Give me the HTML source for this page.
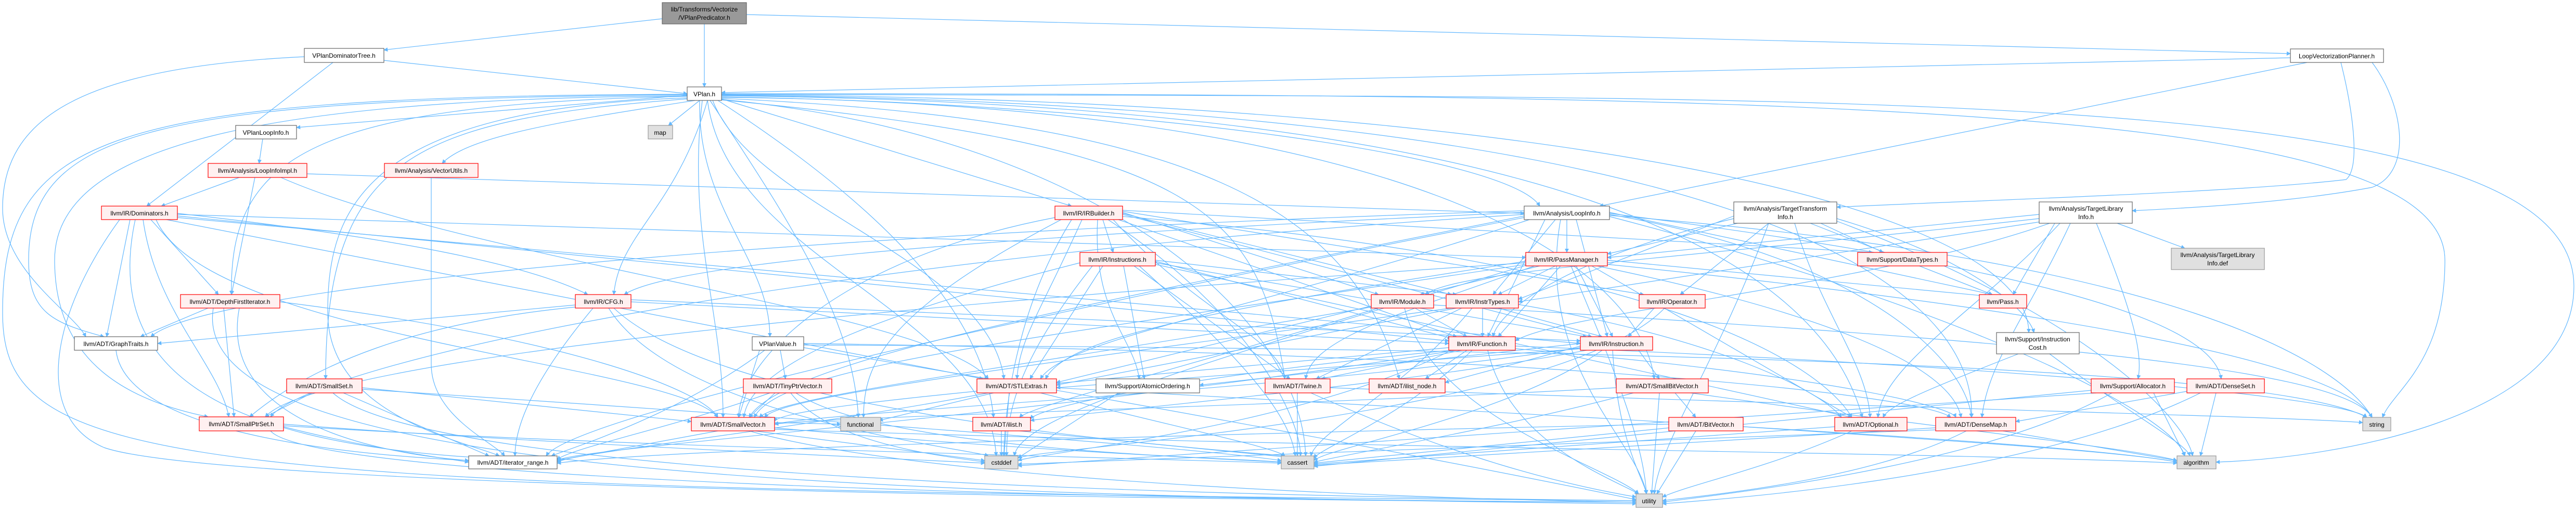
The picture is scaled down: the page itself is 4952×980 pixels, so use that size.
<!DOCTYPE html>
<html><head><meta charset="utf-8"><style>
html,body{margin:0;padding:0;background:#fff;}
svg{display:block;}
text{font-family:"Liberation Sans",Arial,sans-serif;font-size:12px;fill:#000;}
.e{fill:none;stroke:#63b8ff;stroke-width:1.2;marker-end:url(#a);}
.r{fill:#fff0f0;stroke:#ff0000;stroke-width:1.2;}
.w{fill:#fff;stroke:#666;stroke-width:1.2;}
.g{fill:#e0e0e0;stroke:#999;stroke-width:1.2;}
.t{fill:#999;stroke:#666;stroke-width:1.2;}
</style></head><body>
<svg width="4952" height="980" viewBox="0 0 4952 980" xmlns="http://www.w3.org/2000/svg">
<defs><marker id="a" viewBox="0 0 10 10" refX="9" refY="5" markerWidth="8" markerHeight="8" markerUnits="userSpaceOnUse" orient="auto"><path d="M0 0L10 5L0 10z" fill="#63b8ff"/></marker></defs>
<g>
<path class="e" d="M1273 36 L738 96"/>
<path class="e" d="M1354 46 L1354 167"/>
<path class="e" d="M1435 28 L4403 103"/>
<path class="e" d="M738 116 L1321 180"/>
<path class="e" d="M640 120 L282 396"/>
<path class="e" d="M585 109 C150 130,5 230,5 400 C5 520,140 600,165 647"/>
<path class="e" d="M4403 111 L1387 178"/>
<path class="e" d="M4435 120 L3075 396"/>
<path class="e" d="M4560 120 C4620 200,4640 330,4560 360 C4400 390,4200 400,4099 405"/>
<path class="e" d="M4500 120 C4520 200,4540 320,4510 345 C4300 370,3800 385,3531 398"/>
<path class="e" d="M1321 183 L570 245"/>
<path class="e" d="M1345 193 L1285 241"/>
<path class="e" d="M1336 193 C1100 230,900 260,850 314"/>
<path class="e" d="M1321 185 C600 200,440 300,445 566"/>
<path class="e" d="M1321 182 C300 190,55 250,55 500 C55 600,100 620,200 647"/>
<path class="e" d="M1321 184 C500 190,105 280,105 500 C105 700,250 770,400 801"/>
<path class="e" d="M1321 188 C700 210,630 400,630 600 C630 800,900 850,960 876"/>
<path class="e" d="M1321 190 C800 230,626 300,626 728"/>
<path class="e" d="M1321 181 C200 185,5 260,5 600 C5 900,300 940,3145 962"/>
<path class="e" d="M1387 190 L2060 396"/>
<path class="e" d="M1345 193 C1340 400,1480 500,1480 647"/>
<path class="e" d="M1350 193 C1320 450,1390 600,1390 802"/>
<path class="e" d="M1370 193 C1450 400,1900 500,1930 728"/>
<path class="e" d="M1387 192 C2300 280,2420 400,2470 728"/>
<path class="e" d="M1387 191 C2100 260,2500 600,2510 876"/>
<path class="e" d="M1360 193 C1400 500,1900 600,1915 876"/>
<path class="e" d="M1365 193 C1500 400,1640 600,1650 802"/>
<path class="e" d="M1387 189 C2300 230,2600 400,2690 728"/>
<path class="e" d="M1380 193 C1700 400,1890 600,1910 802"/>
<path class="e" d="M1387 186 C2200 200,2900 300,2960 396"/>
<path class="e" d="M1387 184 C3000 200,3500 500,3580 802"/>
<path class="e" d="M1387 183 C3200 200,3800 500,3790 802"/>
<path class="e" d="M1387 187 C2700 200,3150 500,3180 728"/>
<path class="e" d="M1387 182 C3000 190,3900 400,3900 639"/>
<path class="e" d="M1387 181 C3500 190,4948 150,4948 550 C4948 800,4500 880,4260 888"/>
<path class="e" d="M1387 180 C3500 180,4700 200,4700 500 C4700 700,4600 750,4580 802"/>
<path class="e" d="M1360 193 C1300 400,1190 450,1180 566"/>
<path class="e" d="M505 267 L498 314"/>
<path class="e" d="M460 341 L310 396"/>
<path class="e" d="M490 341 L445 566"/>
<path class="e" d="M590 334 L2930 410"/>
<path class="e" d="M540 341 C900 500,1800 600,1900 728"/>
<path class="e" d="M829 341 L829 700 C829 800,950 850,970 876"/>
<path class="e" d="M250 422 L205 647"/>
<path class="e" d="M290 422 L420 566"/>
<path class="e" d="M341 410 C700 450,1000 500,1130 566"/>
<path class="e" d="M341 412 L2933 495"/>
<path class="e" d="M341 415 L2785 655"/>
<path class="e" d="M275 422 C300 600,420 700,440 801"/>
<path class="e" d="M300 422 C400 650,1300 700,1380 802"/>
<path class="e" d="M320 422 L1890 728"/>
<path class="e" d="M260 422 C200 700,400 850,930 880"/>
<path class="e" d="M230 422 C100 600,60 800,200 860 C400 930,2000 960,3145 965"/>
<path class="e" d="M341 418 L3038 660"/>
<path class="e" d="M2120 422 L2140 485"/>
<path class="e" d="M2158 410 L2790 566"/>
<path class="e" d="M2158 408 L2650 566"/>
<path class="e" d="M2150 422 L2800 647"/>
<path class="e" d="M2158 406 L3160 566"/>
<path class="e" d="M2158 412 L3060 647"/>
<path class="e" d="M2080 422 C2000 600,1960 650,1955 728"/>
<path class="e" d="M2110 422 C2100 600,2180 650,2190 728"/>
<path class="e" d="M2140 422 C2300 600,2460 650,2470 728"/>
<path class="e" d="M2028 418 C1600 500,1420 700,1420 802"/>
<path class="e" d="M2040 422 C1700 600,1660 700,1660 802"/>
<path class="e" d="M2060 422 C1950 600,1930 800,1930 876"/>
<path class="e" d="M2130 422 C2400 600,2500 800,2500 876"/>
<path class="e" d="M2158 416 C3200 500,3500 700,3560 802"/>
<path class="e" d="M2158 404 L3600 485"/>
<path class="e" d="M2120 511 L1980 728"/>
<path class="e" d="M2221 500 L2800 566"/>
<path class="e" d="M2221 505 L3050 647"/>
<path class="e" d="M2160 511 L2200 728"/>
<path class="e" d="M2180 511 L2480 728"/>
<path class="e" d="M2190 511 C2400 700,2480 800,2490 876"/>
<path class="e" d="M2100 511 C1950 700,1935 800,1935 876"/>
<path class="e" d="M2076 505 C1700 600,1440 700,1430 802"/>
<path class="e" d="M2221 508 L3560 802"/>
<path class="e" d="M2221 502 L2790 650"/>
<path class="e" d="M3012 422 L3012 485"/>
<path class="e" d="M2990 422 L2870 566"/>
<path class="e" d="M3030 422 L3090 647"/>
<path class="e" d="M2970 422 L2860 647"/>
<path class="e" d="M3094 412 C3600 500,3780 700,3790 802"/>
<path class="e" d="M3094 410 C3800 500,4250 600,4270 728"/>
<path class="e" d="M3094 408 L3830 566"/>
<path class="e" d="M2930 412 C1500 500,600 700,520 801"/>
<path class="e" d="M2930 415 C2000 600,1500 700,1440 802"/>
<path class="e" d="M2940 422 C2400 600,2050 650,2000 728"/>
<path class="e" d="M2930 405 C1500 450,400 550,290 647"/>
<path class="e" d="M2930 408 C2000 450,1300 500,1200 566"/>
<path class="e" d="M3094 416 C3800 600,4180 800,4200 876"/>
<path class="e" d="M3094 414 C4200 500,4500 700,4560 802"/>
<path class="e" d="M3000 422 C2950 700,3150 850,3165 949"/>
<path class="e" d="M2930 418 C2000 600,1100 800,1050 876"/>
<path class="e" d="M3340 429 L3090 488"/>
<path class="e" d="M3500 429 L3620 485"/>
<path class="e" d="M3400 429 L3230 566"/>
<path class="e" d="M3531 420 C3800 500,3900 600,3910 639"/>
<path class="e" d="M3480 429 L3830 566"/>
<path class="e" d="M3333 420 C3000 500,2880 600,2870 647"/>
<path class="e" d="M3531 425 C4000 600,4200 800,4215 876"/>
<path class="e" d="M3400 429 C3300 700,3190 850,3180 949"/>
<path class="e" d="M3450 429 C3500 600,3590 700,3595 802"/>
<path class="e" d="M3333 415 L2919 575"/>
<path class="e" d="M4070 429 L4200 477"/>
<path class="e" d="M3920 412 L3090 495"/>
<path class="e" d="M3950 429 L3870 566"/>
<path class="e" d="M3940 429 C3600 550,3000 600,2913 655"/>
<path class="e" d="M3920 420 C3200 500,2800 520,2740 566"/>
<path class="e" d="M3980 429 C3900 600,3820 700,3810 802"/>
<path class="e" d="M3960 429 C3800 600,3620 700,3610 802"/>
<path class="e" d="M3930 425 L2919 580"/>
<path class="e" d="M4030 429 C4100 600,4120 680,4110 728"/>
<path class="e" d="M2960 511 L2730 566"/>
<path class="e" d="M3000 511 L2880 647"/>
<path class="e" d="M3070 511 C3500 600,3750 700,3770 802"/>
<path class="e" d="M2933 505 C1500 600,600 700,510 801"/>
<path class="e" d="M2933 508 C2000 650,1500 700,1450 802"/>
<path class="e" d="M2933 502 C2300 600,2050 650,2010 728"/>
<path class="e" d="M2950 511 C2700 600,2520 650,2510 728"/>
<path class="e" d="M2933 510 C2300 700,1960 800,1950 876"/>
<path class="e" d="M3090 508 C4000 600,4500 700,4560 802"/>
<path class="e" d="M3020 511 C3100 700,3160 850,3165 949"/>
<path class="e" d="M3060 511 L3560 802"/>
<path class="e" d="M2990 511 L2880 566"/>
<path class="e" d="M3030 511 L3100 647"/>
<path class="e" d="M3090 500 L3830 570"/>
<path class="e" d="M1106 586 L303 660"/>
<path class="e" d="M1213 580 L2785 660"/>
<path class="e" d="M1213 576 L3038 655"/>
<path class="e" d="M1140 592 C1050 700,990 800,990 876"/>
<path class="e" d="M1180 592 C1400 800,2300 860,2470 876"/>
<path class="e" d="M1170 592 C1300 800,1850 860,1900 876"/>
<path class="e" d="M1106 590 C800 620,600 700,480 801"/>
<path class="e" d="M2720 592 L2820 647"/>
<path class="e" d="M2650 592 C2300 700,1980 780,1960 802"/>
<path class="e" d="M2756 586 C3800 650,4500 700,4560 802"/>
<path class="e" d="M2700 592 C2750 800,3100 900,3150 949"/>
<path class="e" d="M2636 590 C2000 700,1500 760,1460 802"/>
<path class="e" d="M2636 588 L2031 735"/>
<path class="e" d="M2850 592 L2850 647"/>
<path class="e" d="M2880 592 L3080 647"/>
<path class="e" d="M2790 592 C2000 700,1500 760,1470 802"/>
<path class="e" d="M2800 592 L2031 740"/>
<path class="e" d="M2810 592 L2530 728"/>
<path class="e" d="M2919 585 C3300 650,3500 750,3540 802"/>
<path class="e" d="M2830 592 C2700 750,2530 830,2520 876"/>
<path class="e" d="M3180 592 L3130 647"/>
<path class="e" d="M3200 592 C3000 800,2000 860,1957 880"/>
<path class="e" d="M2820 673 L2740 728"/>
<path class="e" d="M2790 673 C2300 720,2000 780,1981 805"/>
<path class="e" d="M2785 668 C2000 740,1500 780,1489 810"/>
<path class="e" d="M2810 673 L2540 728"/>
<path class="e" d="M2800 673 C2000 800,1100 860,1071 885"/>
<path class="e" d="M2830 673 C2700 800,2540 860,2526 880"/>
<path class="e" d="M2790 673 C2500 820,2000 870,1957 885"/>
<path class="e" d="M2913 665 C3800 700,4500 760,4550 802"/>
<path class="e" d="M2860 673 C2900 850,3100 920,3150 949"/>
<path class="e" d="M2913 670 C3500 720,3750 780,3760 802"/>
<path class="e" d="M3038 665 L2778 735"/>
<path class="e" d="M3050 673 C2700 740,2100 790,1981 808"/>
<path class="e" d="M3150 673 L3190 728"/>
<path class="e" d="M3038 668 C2500 750,1600 790,1489 815"/>
<path class="e" d="M3040 670 L2031 745"/>
<path class="e" d="M3038 660 L2306 740"/>
<path class="e" d="M3080 673 C2900 800,2550 860,2526 885"/>
<path class="e" d="M3100 673 C3110 850,3160 920,3165 949"/>
<path class="e" d="M3880 680 C3700 750,3630 780,3620 802"/>
<path class="e" d="M3940 680 C4100 800,4200 850,4210 876"/>
<path class="e" d="M3220 755 L3260 802"/>
<path class="e" d="M3190 755 L3175 949"/>
<path class="e" d="M3250 755 C3700 820,4100 860,4185 885"/>
<path class="e" d="M3140 755 C2900 820,2600 870,2526 888"/>
<path class="e" d="M3107 745 C2500 780,1600 800,1489 815"/>
<path class="e" d="M1490 755 L1440 802"/>
<path class="e" d="M1480 755 C1300 820,1100 860,1071 883"/>
<path class="e" d="M1530 755 C1700 870,2400 880,2463 888"/>
<path class="e" d="M1520 755 C1600 860,1850 880,1893 888"/>
<path class="e" d="M1500 673 L1510 728"/>
<path class="e" d="M1460 673 L1420 802"/>
<path class="e" d="M1545 668 L1900 728"/>
<path class="e" d="M1545 660 C3000 680,3700 760,3750 802"/>
<path class="e" d="M1470 673 C1300 800,1100 860,1060 876"/>
<path class="e" d="M1545 663 C3500 670,4400 720,4550 802"/>
<path class="e" d="M1910 755 L1690 808"/>
<path class="e" d="M1900 755 C1500 830,1100 870,1071 888"/>
<path class="e" d="M1940 755 L1930 876"/>
<path class="e" d="M2000 755 C2300 830,2450 860,2470 876"/>
<path class="e" d="M2031 750 C2600 850,3000 930,3145 960"/>
<path class="e" d="M2031 745 C3000 800,4000 850,4185 888"/>
<path class="e" d="M600 755 L510 801"/>
<path class="e" d="M696 745 L1329 810"/>
<path class="e" d="M660 755 L940 876"/>
<path class="e" d="M696 748 C1500 800,2300 860,2463 885"/>
<path class="e" d="M640 755 C800 900,2000 950,3145 962"/>
<path class="e" d="M545 820 C700 860,850 880,901 888"/>
<path class="e" d="M545 818 C1200 860,2200 880,2463 890"/>
<path class="e" d="M545 815 C1000 850,1700 880,1893 890"/>
<path class="e" d="M520 828 C600 920,2000 960,3145 965"/>
<path class="e" d="M400 592 L270 647"/>
<path class="e" d="M430 592 L450 801"/>
<path class="e" d="M538 580 C1100 650,1350 750,1380 802"/>
<path class="e" d="M460 592 C420 800,700 870,901 885"/>
<path class="e" d="M410 592 C360 900,1500 950,3145 968"/>
<path class="e" d="M223 673 C240 820,600 870,901 885"/>
<path class="e" d="M2494 755 L2494 876"/>
<path class="e" d="M2557 745 C3500 780,4400 800,4542 812"/>
<path class="e" d="M2520 755 C2800 880,3000 930,3145 955"/>
<path class="e" d="M1380 828 L1071 885"/>
<path class="e" d="M1450 828 L1893 885"/>
<path class="e" d="M1489 822 C1900 860,2300 880,2463 888"/>
<path class="e" d="M1489 825 C2500 860,3800 870,4185 890"/>
<path class="e" d="M1489 812 L1616 815"/>
<path class="e" d="M1440 828 C1800 930,2800 960,3145 965"/>
<path class="e" d="M1925 828 L1925 876"/>
<path class="e" d="M1960 828 L2470 878"/>
<path class="e" d="M3208 815 C2500 830,1300 860,1071 890"/>
<path class="e" d="M3260 828 L3185 949"/>
<path class="e" d="M3351 820 C3800 850,4100 870,4185 888"/>
<path class="e" d="M3210 822 L2526 890"/>
<path class="e" d="M3560 828 C3400 900,3250 930,3196 955"/>
<path class="e" d="M3527 820 L2526 892"/>
<path class="e" d="M3850 828 L4185 885"/>
<path class="e" d="M3780 828 C3600 920,3300 950,3196 962"/>
<path class="e" d="M3721 822 L2526 894"/>
<path class="e" d="M3721 826 L1957 892"/>
<path class="e" d="M4140 755 L4200 876"/>
<path class="e" d="M4060 755 C3800 900,3300 950,3196 965"/>
<path class="e" d="M4020 750 L2526 896"/>
<path class="e" d="M4030 755 L1957 895"/>
<path class="e" d="M4204 752 L3875 810"/>
<path class="e" d="M4260 755 L4230 876"/>
<path class="e" d="M4230 755 C3900 920,3300 960,3196 968"/>
<path class="e" d="M2150 755 L1957 880"/>
</g>
<g>
<rect class="t" x="1273" y="5" width="162" height="41"/><text x="1354" y="22" text-anchor="middle">lib/Transforms/Vectorize</text><text x="1354" y="38" text-anchor="middle">/VPlanPredicator.h</text>
<rect class="w" x="585" y="93" width="153" height="27"/><text x="661" y="111" text-anchor="middle">VPlanDominatorTree.h</text>
<rect class="w" x="4403" y="94" width="179" height="26"/><text x="4492" y="112" text-anchor="middle">LoopVectorizationPlanner.h</text>
<rect class="w" x="1321" y="167" width="66" height="26"/><text x="1354" y="185" text-anchor="middle">VPlan.h</text>
<rect class="w" x="453" y="241" width="117" height="26"/><text x="511" y="259" text-anchor="middle">VPlanLoopInfo.h</text>
<rect class="g" x="1246" y="241" width="47" height="26"/><text x="1269" y="259" text-anchor="middle">map</text>
<rect class="r" x="400" y="314" width="190" height="27"/><text x="495" y="332" text-anchor="middle">llvm/Analysis/LoopInfoImpl.h</text>
<rect class="r" x="739" y="314" width="180" height="27"/><text x="829" y="332" text-anchor="middle">llvm/Analysis/VectorUtils.h</text>
<rect class="r" x="195" y="396" width="146" height="26"/><text x="268" y="414" text-anchor="middle">llvm/IR/Dominators.h</text>
<rect class="r" x="2028" y="396" width="130" height="26"/><text x="2093" y="414" text-anchor="middle">llvm/IR/IRBuilder.h</text>
<rect class="w" x="2930" y="396" width="164" height="26"/><text x="3012" y="414" text-anchor="middle">llvm/Analysis/LoopInfo.h</text>
<rect class="w" x="3333" y="388" width="198" height="41"/><text x="3432" y="405" text-anchor="middle">llvm/Analysis/TargetTransform</text><text x="3432" y="421" text-anchor="middle">Info.h</text>
<rect class="w" x="3920" y="388" width="179" height="41"/><text x="4010" y="405" text-anchor="middle">llvm/Analysis/TargetLibrary</text><text x="4010" y="421" text-anchor="middle">Info.h</text>
<rect class="r" x="2076" y="485" width="145" height="26"/><text x="2148" y="503" text-anchor="middle">llvm/IR/Instructions.h</text>
<rect class="r" x="2933" y="485" width="157" height="26"/><text x="3011" y="503" text-anchor="middle">llvm/IR/PassManager.h</text>
<rect class="r" x="3571" y="485" width="172" height="26"/><text x="3657" y="503" text-anchor="middle">llvm/Support/DataTypes.h</text>
<rect class="g" x="4174" y="477" width="179" height="41"/><text x="4263" y="494" text-anchor="middle">llvm/Analysis/TargetLibrary</text><text x="4263" y="510" text-anchor="middle">Info.def</text>
<rect class="r" x="347" y="566" width="191" height="26"/><text x="442" y="584" text-anchor="middle">llvm/ADT/DepthFirstIterator.h</text>
<rect class="r" x="1106" y="566" width="107" height="26"/><text x="1160" y="584" text-anchor="middle">llvm/IR/CFG.h</text>
<rect class="r" x="2636" y="566" width="120" height="26"/><text x="2696" y="584" text-anchor="middle">llvm/IR/Module.h</text>
<rect class="r" x="2780" y="566" width="139" height="26"/><text x="2850" y="584" text-anchor="middle">llvm/IR/InstrTypes.h</text>
<rect class="r" x="3151" y="566" width="127" height="26"/><text x="3214" y="584" text-anchor="middle">llvm/IR/Operator.h</text>
<rect class="r" x="3805" y="566" width="91" height="26"/><text x="3850" y="584" text-anchor="middle">llvm/Pass.h</text>
<rect class="w" x="143" y="647" width="160" height="26"/><text x="223" y="665" text-anchor="middle">llvm/ADT/GraphTraits.h</text>
<rect class="w" x="1446" y="647" width="99" height="26"/><text x="1495" y="665" text-anchor="middle">VPlanValue.h</text>
<rect class="r" x="2785" y="647" width="128" height="26"/><text x="2849" y="665" text-anchor="middle">llvm/IR/Function.h</text>
<rect class="r" x="3038" y="647" width="139" height="26"/><text x="3107" y="665" text-anchor="middle">llvm/IR/Instruction.h</text>
<rect class="w" x="3838" y="639" width="159" height="41"/><text x="3917" y="656" text-anchor="middle">llvm/Support/Instruction</text><text x="3917" y="672" text-anchor="middle">Cost.h</text>
<rect class="r" x="551" y="728" width="145" height="27"/><text x="623" y="746" text-anchor="middle">llvm/ADT/SmallSet.h</text>
<rect class="r" x="1429" y="728" width="170" height="27"/><text x="1514" y="746" text-anchor="middle">llvm/ADT/TinyPtrVector.h</text>
<rect class="r" x="1878" y="728" width="153" height="27"/><text x="1954" y="746" text-anchor="middle">llvm/ADT/STLExtras.h</text>
<rect class="w" x="2107" y="728" width="199" height="27"/><text x="2206" y="746" text-anchor="middle">llvm/Support/AtomicOrdering.h</text>
<rect class="r" x="2432" y="728" width="125" height="27"/><text x="2494" y="746" text-anchor="middle">llvm/ADT/Twine.h</text>
<rect class="r" x="2632" y="728" width="146" height="27"/><text x="2705" y="746" text-anchor="middle">llvm/ADT/ilist_node.h</text>
<rect class="r" x="3107" y="728" width="177" height="27"/><text x="3195" y="746" text-anchor="middle">llvm/ADT/SmallBitVector.h</text>
<rect class="r" x="4020" y="728" width="160" height="27"/><text x="4100" y="746" text-anchor="middle">llvm/Support/Allocator.h</text>
<rect class="r" x="4204" y="728" width="149" height="27"/><text x="4278" y="746" text-anchor="middle">llvm/ADT/DenseSet.h</text>
<rect class="r" x="383" y="801" width="162" height="27"/><text x="464" y="819" text-anchor="middle">llvm/ADT/SmallPtrSet.h</text>
<rect class="r" x="1329" y="802" width="160" height="26"/><text x="1409" y="820" text-anchor="middle">llvm/ADT/SmallVector.h</text>
<rect class="g" x="1616" y="802" width="77" height="26"/><text x="1654" y="820" text-anchor="middle">functional</text>
<rect class="r" x="1870" y="802" width="111" height="26"/><text x="1925" y="820" text-anchor="middle">llvm/ADT/ilist.h</text>
<rect class="r" x="3208" y="802" width="143" height="26"/><text x="3279" y="820" text-anchor="middle">llvm/ADT/BitVector.h</text>
<rect class="r" x="3527" y="802" width="139" height="26"/><text x="3596" y="820" text-anchor="middle">llvm/ADT/Optional.h</text>
<rect class="r" x="3721" y="802" width="154" height="26"/><text x="3798" y="820" text-anchor="middle">llvm/ADT/DenseMap.h</text>
<rect class="g" x="4542" y="802" width="54" height="26"/><text x="4569" y="820" text-anchor="middle">string</text>
<rect class="w" x="901" y="876" width="170" height="25"/><text x="986" y="893" text-anchor="middle">llvm/ADT/iterator_range.h</text>
<rect class="g" x="1893" y="876" width="64" height="25"/><text x="1925" y="893" text-anchor="middle">cstddef</text>
<rect class="g" x="2463" y="876" width="63" height="25"/><text x="2494" y="893" text-anchor="middle">cassert</text>
<rect class="g" x="4185" y="876" width="75" height="25"/><text x="4222" y="893" text-anchor="middle">algorithm</text>
<rect class="g" x="3145" y="949" width="51" height="26"/><text x="3170" y="967" text-anchor="middle">utility</text>
</g>
</svg>
</body></html>
